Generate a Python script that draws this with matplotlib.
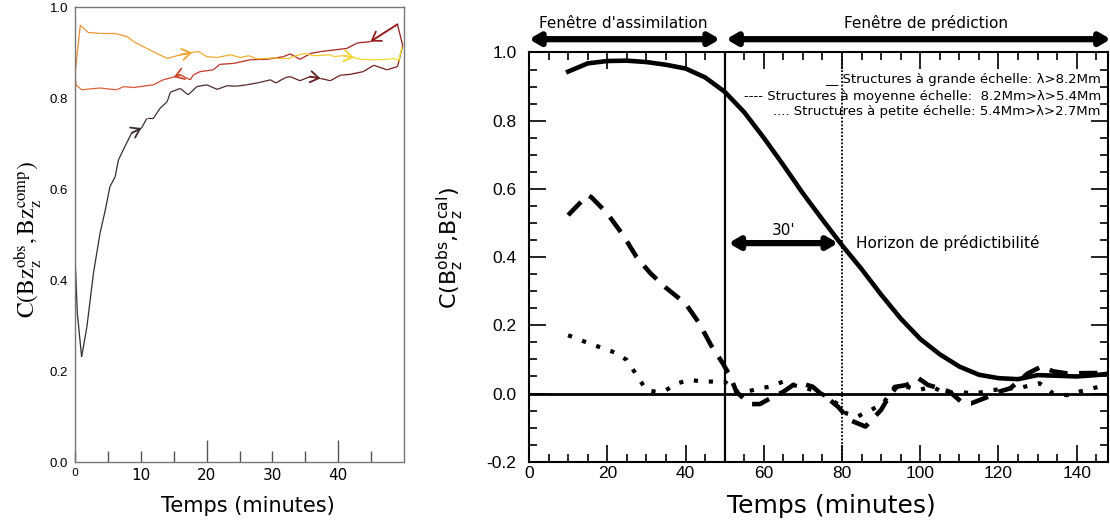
import numpy as np
import matplotlib.pyplot as plt
from matplotlib.collections import LineCollection
from matplotlib.colors import LinearSegmentedColormap

# ---- left panel: C(Bz_obs, Bz_comp), three passes through the window ----
t_pass1 = [0.0, 0.35, 1.0, 1.8, 2.8, 3.8, 4.6, 5.3, 6.1, 6.6, 7.6, 8.6, 10.1, 10.9,
           11.9, 12.9, 14.0, 14.5, 16.0, 17.2, 18.5, 20.0, 21.6, 23.1, 24.5, 26.1,
           28.0, 29.7, 30.5, 32.0, 32.7, 34.2, 35.7, 37.3, 38.8, 40.3, 41.8, 43.8,
           45.4, 47.4, 49.0, 49.8]
c_pass1 = [0.451, 0.327, 0.231, 0.297, 0.415, 0.503, 0.554, 0.605, 0.627, 0.664,
           0.694, 0.723, 0.734, 0.755, 0.755, 0.777, 0.792, 0.813, 0.821, 0.807,
           0.825, 0.829, 0.819, 0.827, 0.826, 0.829, 0.834, 0.840, 0.833, 0.845,
           0.847, 0.838, 0.847, 0.843, 0.838, 0.850, 0.852, 0.858, 0.872, 0.862,
           0.869, 0.915]
t_pass2 = [49.0, 44.9, 42.9, 41.3, 37.3, 35.8, 34.2, 32.7, 31.7, 29.2, 26.6, 24.1,
           22.0, 21.0, 19.0, 18.0, 17.5, 16.0, 15.0, 13.4, 11.9, 8.9, 7.4, 6.3,
           3.8, 2.3, 1.0, 0.15, 0.0]
c_pass2 = [0.962, 0.924, 0.921, 0.909, 0.902, 0.898, 0.885, 0.897, 0.891, 0.885,
           0.884, 0.876, 0.874, 0.862, 0.858, 0.851, 0.840, 0.851, 0.846, 0.840,
           0.829, 0.823, 0.825, 0.818, 0.822, 0.820, 0.818, 0.829, 0.852]
t_pass3 = [0.8, 2.0, 3.8, 6.1, 7.9, 8.9, 10.9, 14.0, 16.0, 17.8, 18.8, 20.0, 21.6,
           23.6, 25.1, 26.4, 27.7, 29.2, 30.7, 32.7, 34.8, 36.3, 38.8, 39.3, 40.8,
           42.4, 43.4, 45.4, 47.4, 48.5, 49.2, 49.7]
c_pass3 = [0.960, 0.944, 0.942, 0.942, 0.935, 0.924, 0.909, 0.887, 0.895, 0.900,
           0.902, 0.891, 0.889, 0.895, 0.889, 0.893, 0.886, 0.887, 0.889, 0.889,
           0.898, 0.893, 0.895, 0.891, 0.893, 0.889, 0.885, 0.884, 0.885, 0.887,
           0.882, 0.913]
# (pass, index) where the small direction arrows sit
arrow_marks = [(0, 12), (0, 33), (1, 1), (1, 18), (2, 9), (2, 25)]

# ---- right panel: correlation per scale ----
t_grande = [10, 15, 20, 25, 30, 35, 40, 45, 50, 55, 60, 65, 70, 75, 80, 85, 90, 95,
            100, 105, 110, 115, 120, 125, 130, 135, 140, 145, 148]
c_grande = [0.944, 0.968, 0.975, 0.976, 0.972, 0.964, 0.953, 0.927, 0.885, 0.825,
            0.750, 0.670, 0.587, 0.510, 0.435, 0.365, 0.290, 0.220, 0.160, 0.115,
            0.079, 0.055, 0.045, 0.042, 0.054, 0.052, 0.050, 0.054, 0.058]
t_moyenne = [10, 15, 16, 20, 24, 27.5, 31, 35, 40, 43.5, 46.5, 49.5, 51.5, 53, 56.5,
             59, 62.5, 65, 67.5, 69.5, 72.5, 74.5, 77, 79, 82, 86, 90, 92, 94, 96.5,
             99.5, 102, 105, 107.5, 111, 113, 117.5, 120, 123, 127.5, 131, 134,
             137.5, 144, 148]
c_moyenne = [0.523, 0.582, 0.575, 0.528, 0.465, 0.400, 0.353, 0.310, 0.264, 0.206,
             0.142, 0.089, 0.049, 0.005, -0.031, -0.031, -0.009, 0.005, 0.025, 0.030,
             0.020, 0.000, -0.020, -0.039, -0.078, -0.097, -0.048, -0.009, 0.020,
             0.025, 0.045, 0.025, 0.015, 0.005, -0.029, -0.029, -0.009, 0.005, 0.015,
             0.059, 0.079, 0.065, 0.059, 0.060, 0.060]
t_petite = [10, 13, 16, 19, 22.5, 25, 28, 30, 32.5, 35, 38, 41, 44.5, 47.5, 50, 53,
            55.5, 59, 61.5, 65, 67.5, 71, 74, 77.5, 80, 81, 84, 85.5, 87.5, 90.5,
            93.5, 96.5, 99.5, 103, 106.5, 109.5, 114, 118.5, 123, 125, 128.5, 130.5,
            134, 137.5, 140.5, 144, 147.5]
c_petite = [0.171, 0.157, 0.145, 0.132, 0.118, 0.098, 0.045, 0.010, 0.005, 0.010,
            0.030, 0.040, 0.035, 0.035, 0.035, 0.005, 0.005, 0.015, 0.020, 0.035,
            0.025, 0.015, 0.005, -0.020, -0.040, -0.058, -0.068, -0.058, -0.048,
            -0.029, 0.020, 0.020, 0.010, 0.020, 0.000, 0.005, 0.000, 0.010, 0.015,
            0.015, 0.025, 0.030, 0.000, -0.005, 0.005, 0.015, 0.025]

legend_lines = ["__ Structures à grande échelle: λ>8.2Mm",
                "---- Structures à moyenne échelle:  8.2Mm>λ>5.4Mm",
                ".... Structures à petite échelle: 5.4Mm>λ>2.7Mm"]

narrow = ['Liberation Sans Narrow', 'Liberation Sans', 'DejaVu Sans']

fig = plt.figure(figsize=(11.1, 5.27), dpi=100)
ax1 = fig.add_axes([0.0676, 0.1233, 0.2964, 0.8634])
ax2 = fig.add_axes([0.4766, 0.1239, 0.5216, 0.7765])

# ---------------- left panel ----------------
trail_cmap = LinearSegmentedColormap.from_list("trail", [
    (0.0, '#2e2e2e'), (0.2, '#4a2c2c'), (0.38, '#7a1a1a'), (0.42, '#9a1c1c'),
    (0.55, '#c83426'), (0.66, '#e3683a'), (0.7, '#ef9232'), (0.85, '#f2b22e'),
    (1.0, '#f2e62e')])

passes = [(t_pass1, c_pass1), (t_pass2, c_pass2), (t_pass3, c_pass3)]
t_all = np.concatenate([p[0] for p in passes])
c_all = np.concatenate([p[1] for p in passes])
pts = np.column_stack([t_all, c_all])
segs = np.stack([pts[:-1], pts[1:]], axis=1)
s = np.linspace(0, 1, len(segs))
lc = LineCollection(segs, cmap=trail_cmap, norm=plt.Normalize(0, 1), linewidths=0.9)
lc.set_array(s)
ax1.add_collection(lc)

offsets = np.cumsum([0] + [len(p[0]) for p in passes])
for p, i in arrow_marks:
    k = offsets[p] + i
    col = trail_cmap(s[k - 1])
    ax1.annotate('', xy=pts[k], xytext=pts[k - 1],
                 arrowprops=dict(arrowstyle='->,head_length=0.6,head_width=0.4',
                                 color=col, lw=1.3, shrinkA=0, shrinkB=0))

ax1.set_xlim(0, 50)
ax1.set_ylim(0, 1.0)
yt = [0.0, 0.2, 0.4, 0.6, 0.8, 1.0]
ax1.set_yticks(yt, ['%.1f' % v for v in yt], family='Liberation Sans', fontsize=9.5)
ax1.tick_params(axis='y', length=0, pad=5)
xt = [0, 10, 20, 30, 40]
ax1.set_xticks(xt, [str(v) for v in xt], fontsize=11)
ax1.set_xticks([5, 15, 25, 35, 45], minor=True)
ax1.tick_params(axis='x', which='both', direction='in', color='#555555', width=1, pad=4)
ax1.tick_params(axis='x', which='minor', length=8)
for tick, v in zip(ax1.xaxis.get_major_ticks(), xt):
    tick.tick1line.set_markersize(16 if v in (20, 40) else 8)
ax1.get_xticklabels()[0].set_fontsize(8)
for sp in ax1.spines.values():
    sp.set_color('#777777')
    sp.set_linewidth(1)

ax1.set_xlabel('Temps (minutes)', fontsize=15)
ax1.xaxis.set_label_coords(0.526, -0.075)
ax1.set_ylabel(r'$\mathrm{C(Bz_z^{obs},Bz_z^{comp})}$', fontsize=17,
               math_fontfamily='stix')
ax1.yaxis.set_label_coords(-0.095, 0.49)

# ---------------- right panel ----------------
ax2.plot(t_grande, c_grande, color='k', lw=3.3)
ax2.plot(t_moyenne, c_moyenne, color='k', lw=3.3, linestyle=(0, (4, 2.5)))
ax2.plot(t_petite, c_petite, color='k', lw=3.0, linestyle=(0, (1, 2.6)))
ax2.axhline(0, color='k', lw=2)
ax2.axvline(50, color='k', lw=1.6)
ax2.axvline(80, color='k', lw=1.3, linestyle=(0, (1, 1)))

ax2.set_xlim(0, 148)
ax2.set_ylim(-0.2, 1.0)
xt2 = list(range(0, 141, 20))
ax2.set_xticks(xt2, [str(v) for v in xt2], family=narrow, fontsize=12.5)
ax2.set_xticks(range(0, 149, 5), minor=True)
yt2 = [-0.2, 0.0, 0.2, 0.4, 0.6, 0.8, 1.0]
ax2.set_yticks(yt2, ['%.1f' % v for v in yt2], family=narrow, fontsize=12.5)
ax2.set_yticks(np.arange(-0.2, 1.001, 0.05), minor=True)
ax2.tick_params(which='both', direction='in', top=True, right=True, width=1.2, color='k')
ax2.tick_params(which='major', length=12)
ax2.tick_params(which='minor', length=6)
ax2.tick_params(axis='x', pad=3)
ax2.tick_params(axis='y', pad=9)
for sp in ax2.spines.values():
    sp.set_linewidth(1.5)

ax2.set_xlabel('Temps (minutes)', fontsize=18)
ax2.xaxis.set_label_coords(0.523, -0.078)
ax2.set_ylabel(r'C(B$_\mathrm{z}^\mathrm{obs}$,B$_\mathrm{z}^\mathrm{cal}$)', fontsize=16)
ax2.yaxis.set_label_coords(-0.108, 0.522)

big_arrow = dict(arrowstyle='<|-|>,head_length=0.6,head_width=0.35', lw=4.5, color='k',
                 shrinkA=0, shrinkB=0)
ax2.annotate('', xy=(0.0, 1.039), xytext=(48.8, 1.039), arrowprops=big_arrow,
             annotation_clip=False)
ax2.annotate('', xy=(50.4, 1.039), xytext=(148.7, 1.039), arrowprops=big_arrow,
             annotation_clip=False)
ax2.text(24, 1.086, "Fenêtre d'assimilation", ha='center', va='center', fontsize=11,
         clip_on=False)
ax2.text(101.5, 1.086, "Fenêtre de prédiction", ha='center', va='center', fontsize=11,
         clip_on=False)

ax2.annotate('', xy=(51.0, 0.441), xytext=(79.0, 0.441), arrowprops=big_arrow)
ax2.text(65, 0.478, "30'", ha='center', va='center', fontsize=11)
ax2.text(83.5, 0.44, 'Horizon de prédictibilité', ha='left', va='center', fontsize=11)

for yv, txt in zip([0.92, 0.871, 0.826], legend_lines):
    ax2.text(146.2, yv, txt, ha='right', va='center', fontsize=9.5)

fig.savefig('out.png', dpi=100)
